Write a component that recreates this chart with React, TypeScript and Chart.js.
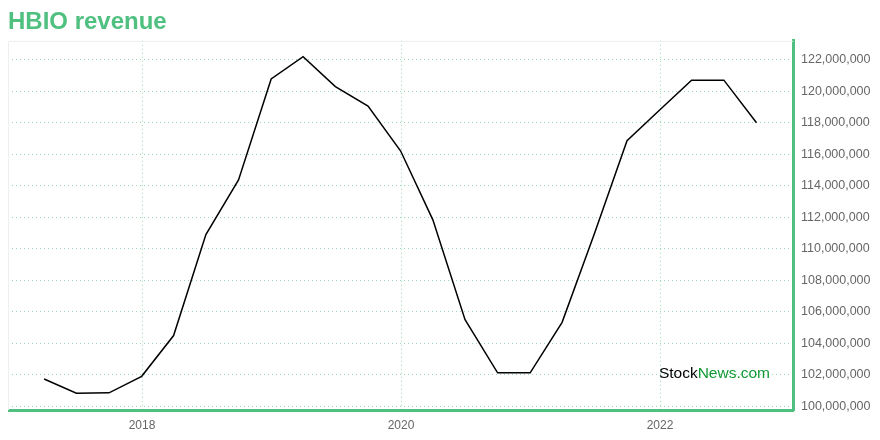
import React, { useEffect, useRef } from "react";
import { Chart, registerables } from "chart.js";

Chart.register(...registerables);

const title = "HBIO revenue";
const dates = [
  "2017-03-31", "2017-06-30", "2017-09-30", "2017-12-31",
  "2018-03-31", "2018-06-30", "2018-09-30", "2018-12-31",
  "2019-03-31", "2019-06-30", "2019-09-30", "2019-12-31",
  "2020-03-31", "2020-06-30", "2020-09-30", "2020-12-31",
  "2021-03-31", "2021-06-30", "2021-09-30", "2021-12-31",
  "2022-03-31", "2022-06-30", "2022-09-30",
];
const revenue = [
  101720000, 100820000, 100840000, 101890000,
  104480000, 110890000, 114360000, 120780000,
  122190000, 120290000, 119060000, 116200000,
  111830000, 105490000, 102110000, 102110000,
  105320000, 110950000, 116850000, 118800000,
  120700000, 120700000, 118000000,
];
const yearTicks = [2018, 2020, 2022];
const revenueTicks = [
  100000000, 102000000, 104000000, 106000000, 108000000, 110000000,
  112000000, 114000000, 116000000, 118000000, 120000000, 122000000,
];

const GREEN = "#50c080";
const GRID = "rgba(80,192,130,0.6)";

function toYear(d: string): number {
  const dt = new Date(d + "T00:00:00Z");
  const y = dt.getUTCFullYear();
  const start = Date.UTC(y, 0, 1);
  const end = Date.UTC(y + 1, 0, 1);
  return y + (dt.getTime() - start) / (end - start);
}

const framePlugin = {
  id: "frame",
  beforeDatasetsDraw(chart: any) {
    const { ctx, chartArea } = chart;
    ctx.save();
    ctx.strokeStyle = "#eeeeee";
    ctx.lineWidth = 1;
    ctx.beginPath();
    ctx.moveTo(chartArea.left + 0.5, chartArea.bottom);
    ctx.lineTo(chartArea.left + 0.5, chartArea.top + 0.5);
    ctx.lineTo(chartArea.right, chartArea.top + 0.5);
    ctx.stroke();
    ctx.restore();
  },
  afterDatasetsDraw(chart: any) {
    const { ctx, chartArea } = chart;
    ctx.save();
    ctx.font = "15.5px 'Liberation Sans', Arial, Helvetica, sans-serif";
    ctx.textBaseline = "middle";
    ctx.textAlign = "left";
    const a = "Stock";
    const b = "News.com";
    const wa = ctx.measureText(a).width;
    const wb = ctx.measureText(b).width;
    const xEnd = chartArea.right - 23;
    const x0 = xEnd - wa - wb;
    const y = chartArea.bottom - 36;
    ctx.fillStyle = "#000000";
    ctx.fillText(a, x0, y);
    ctx.fillStyle = "#119933";
    ctx.fillText(b, x0 + wa, y);
    ctx.restore();
  },
};

export default function App() {
  const ref = useRef<HTMLCanvasElement | null>(null);
  useEffect(() => {
    if (!ref.current) return;
    Chart.defaults.font.family = "'Liberation Sans', Arial, Helvetica, sans-serif";
    const points = dates.map((d, i) => ({ x: toYear(d), y: revenue[i] }));
    const chart = new Chart(ref.current, {
      type: "line",
      data: {
        datasets: [
          {
            label: "Revenue",
            data: points,
            borderColor: "#000000",
            borderWidth: 1.5,
            pointRadius: 0,
            tension: 0,
            fill: false,
          },
        ],
      },
      options: {
        animation: false,
        responsive: true,
        maintainAspectRatio: false,
        layout: { padding: { left: 0, right: 0, top: 0, bottom: 0 } },
        plugins: {
          legend: { display: false },
          tooltip: { enabled: false },
          title: {
            display: true,
            text: title,
            align: "start",
            color: GREEN,
            font: { size: 24, weight: "bold" },
            padding: { top: 0, bottom: 4 },
          },
        },
        scales: {
          x: {
            type: "linear",
            min: 2016.965,
            max: 2023.027,
            afterBuildTicks: (scale: any) => {
              scale.ticks = yearTicks.map((v) => ({ value: v }));
            },
            afterFit: (scale: any) => {
              scale.height = 30;
            },
            ticks: {
              color: "#666666",
              font: { size: 12 },
              padding: 8,
              maxRotation: 0,
              callback: (v: any) => String(v),
            },
            grid: { color: GRID, drawTicks: false },
            border: { color: GREEN, width: 3, dash: [1, 3] },
          },
          y: {
            position: "right",
            min: 99750000,
            max: 123200000,
            afterBuildTicks: (scale: any) => {
              scale.ticks = revenueTicks.map((v) => ({ value: v }));
            },
            afterFit: (scale: any) => {
              scale.width = 79;
            },
            ticks: {
              color: "#666666",
              font: { size: 12.5 },
              padding: 8,
              autoSkip: false,
              callback: (v: any) => Number(v).toLocaleString("en-US"),
            },
            grid: { color: GRID, drawTicks: false },
            border: { color: GREEN, width: 3, dash: [1, 3] },
          },
        },
      },
      plugins: [framePlugin],
    } as any);
    return () => chart.destroy();
  }, []);
  return (
    <div style={{ width: 864, height: 432, position: "relative" }}>
      <canvas ref={ref} />
    </div>
  );
}
